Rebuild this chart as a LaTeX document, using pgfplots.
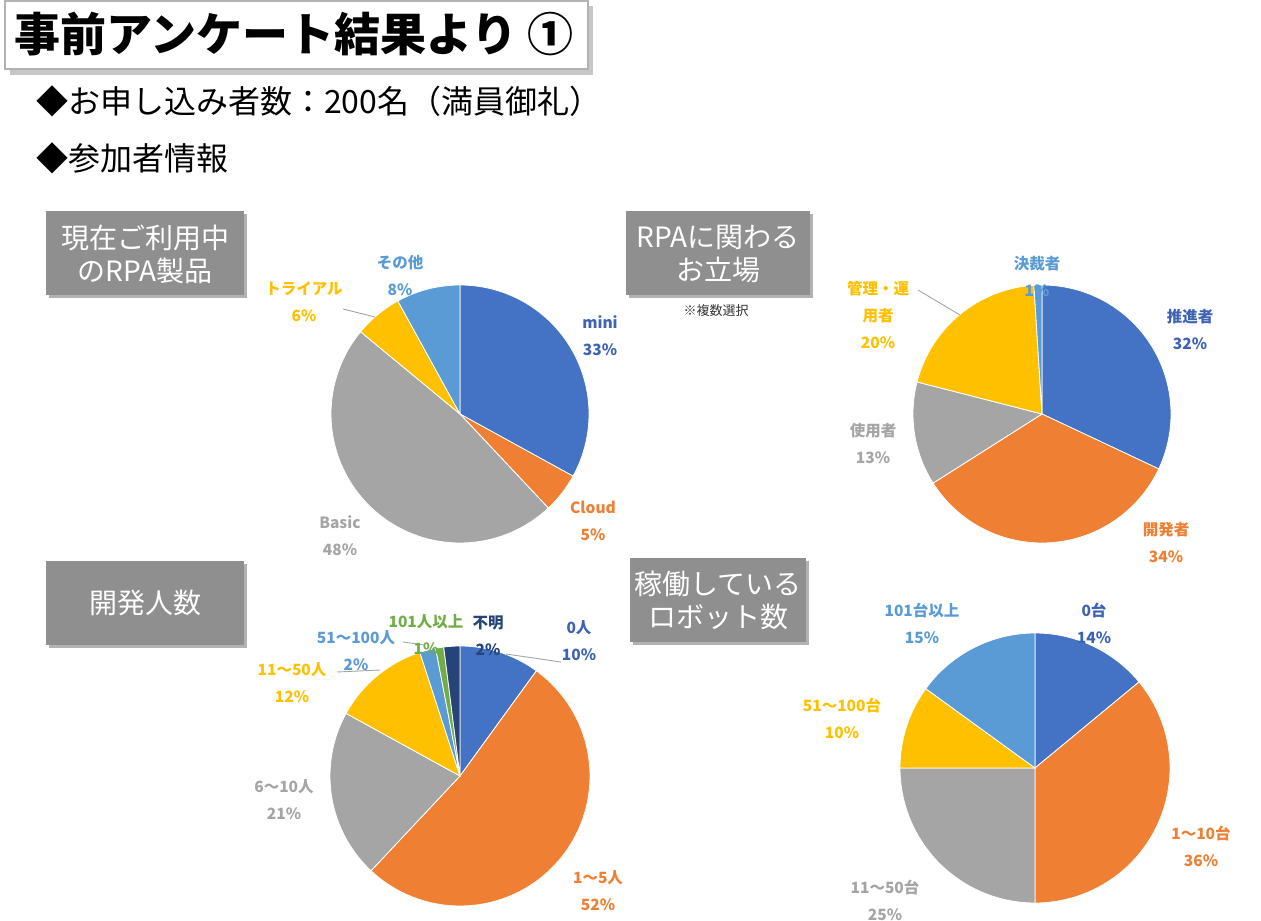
\documentclass[border=0pt]{standalone}
\usepackage{pgfplots}
\pgfplotsset{compat=1.18}
\usepackage{fontspec}
\setmainfont{Noto Sans CJK JP}
\definecolor{cBlue}{HTML}{4472C4}
\definecolor{cOrange}{HTML}{EE7F33}
\definecolor{cGray}{HTML}{A5A5A5}
\definecolor{cGold}{HTML}{FFC000}
\definecolor{cLBlue}{HTML}{5B9BD5}
\definecolor{cGreen}{HTML}{70AD47}
\definecolor{cNavy}{HTML}{264478}
\definecolor{tBlue}{HTML}{3E63B3}
\definecolor{boxgray}{HTML}{8F8F8F}
% slice: cx cy rx ry from% to% color
\newcommand{\slice}[7]{%
 \addplot[fill=#7, draw=white, line width=0.8pt, domain=#5:#6, samples=70, variable=\t, forget plot]
   ({#1+#3*sin(3.6*\t)},{#2-#4*cos(3.6*\t)}) -- (axis cs:#1,#2) -- cycle;}
\newcommand{\plab}[4]{\node[text=#3, font=\fontsize{15.5}{27}\selectfont\bfseries, align=center, inner sep=0pt] at (axis cs:#1,#2) {#4};}
\newcommand{\gbox}[4]{\fill[black!30] (axis cs:#1+3,#2+3) rectangle (axis cs:#3+3,#4+3);
 \fill[boxgray] (axis cs:#1,#2) rectangle (axis cs:#3,#4);}
\begin{document}
\begin{tikzpicture}
\begin{axis}[width=1261pt, height=919pt, scale only axis, xmin=0, xmax=1261, ymin=0, ymax=919,
  y dir=reverse, hide axis, clip=false]
\path (axis cs:0,0) rectangle (axis cs:1261,919);
% title
\fill[black!22] (axis cs:10,6) rectangle (axis cs:593,75);
\filldraw[fill=white, draw=black!30, line width=1.2pt] (axis cs:5,1) rectangle (axis cs:588,69);
\node[anchor=west, font=\fontsize{46}{50}\selectfont\bfseries, inner sep=0pt] at (axis cs:14,34) {事前アンケート結果より ①};
\node[anchor=west, font=\fontsize{32}{36}\selectfont, inner sep=0pt] at (axis cs:36,101) {◆お申し込み者数：200名（満員御礼）};
\node[anchor=west, font=\fontsize{32}{36}\selectfont, inner sep=0pt] at (axis cs:36,158) {◆参加者情報};
% boxes
\gbox{46}{211}{244}{295}
\gbox{626}{211}{810}{295}
\gbox{46}{561}{244}{645}
\gbox{630}{558}{806}{642}
\node[text=white, font=\fontsize{28}{33}\selectfont, align=center, inner sep=0pt] at (axis cs:145,254) {現在ご利用中\\のRPA製品};
\node[text=white, font=\fontsize{28}{33}\selectfont, align=center, inner sep=0pt] at (axis cs:718,254) {RPAに関わる\\お立場};
\node[text=white, font=\fontsize{28}{33}\selectfont, align=center, inner sep=0pt] at (axis cs:145,603) {開発人数};
\node[text=white, font=\fontsize{28}{33}\selectfont, align=center, inner sep=0pt] at (axis cs:718,600) {稼働している\\ロボット数};
\node[font=\fontsize{13}{15}\selectfont, inner sep=0pt, text=black!80] at (axis cs:716,311) {※複数選択};
% Pie 1: mini 33, Cloud 5, Basic 48, trial 6, other 8
\slice{460}{414}{129}{129}{0}{33}{cBlue}
\slice{460}{414}{129}{129}{33}{38}{cOrange}
\slice{460}{414}{129}{129}{38}{86}{cGray}
\slice{460}{414}{129}{129}{86}{92}{cGold}
\slice{460}{414}{129}{129}{92}{100}{cLBlue}
% Pie 2: 32, 34, 13, 20, 1
\slice{1042}{414}{129}{129}{0}{32}{cBlue}
\slice{1042}{414}{129}{129}{32}{66}{cOrange}
\slice{1042}{414}{129}{129}{66}{79}{cGray}
\slice{1042}{414}{129}{129}{79}{99}{cGold}
\slice{1042}{414}{129}{129}{99}{100}{cLBlue}
% Pie 3: 10, 52, 21, 12, 2, 1, 2
\slice{460}{776}{130}{130}{0}{10}{cBlue}
\slice{460}{776}{130}{130}{10}{62}{cOrange}
\slice{460}{776}{130}{130}{62}{83}{cGray}
\slice{460}{776}{130}{130}{83}{95}{cGold}
\slice{460}{776}{130}{130}{95}{97}{cLBlue}
\slice{460}{776}{130}{130}{97}{98}{cGreen}
\slice{460}{776}{130}{130}{98}{100}{cNavy}
% Pie 4: 14, 36, 25, 10, 15
\slice{1035}{768}{135}{135}{0}{14}{cBlue}
\slice{1035}{768}{135}{135}{14}{50}{cOrange}
\slice{1035}{768}{135}{135}{50}{75}{cGray}
\slice{1035}{768}{135}{135}{75}{85}{cGold}
\slice{1035}{768}{135}{135}{85}{100}{cLBlue}
% leader lines
\draw[cGray, line width=0.9pt] (axis cs:343,309) -- (axis cs:375,317);
\draw[cGray, line width=0.9pt] (axis cs:918,290) -- (axis cs:960,315);
\draw[cGray, line width=0.9pt] (axis cs:506,654) -- (axis cs:561,662);
\draw[cGray, line width=0.9pt] (axis cs:337,672) -- (axis cs:380,670);
\draw[cGray, line width=0.9pt] (axis cs:403,642) -- (axis cs:424,645);
% labels pie 1
\plab{400}{276}{cLBlue}{その他\\8\%}
\plab{304}{302}{cGold}{トライアル\\6\%}
\plab{600}{336}{tBlue}{mini\\33\%}
\plab{593}{521}{cOrange}{Cloud\\5\%}
\plab{340}{536}{cGray}{Basic\\48\%}
% labels pie 2
\plab{1037}{276}{cLBlue}{決裁者\\1\%}
\plab{878}{315}{cGold}{管理・運\\用者\\20\%}
\plab{1190}{329}{tBlue}{推進者\\32\%}
\plab{873}{443}{cGray}{使用者\\13\%}
\plab{1166}{542}{cOrange}{開発者\\34\%}
% labels pie 3
\plab{579}{641}{tBlue}{0人\\10\%}
\plab{598}{891}{cOrange}{1～5人\\52\%}
\plab{284}{800}{cGray}{6～10人\\21\%}
\plab{292}{683}{cGold}{11～50人\\12\%}
\plab{356}{651}{cLBlue}{51～100人\\2\%}
\plab{426}{635}{cGreen}{101人以上\\1\%}
\plab{488}{636}{cNavy}{不明\\2\%}
% labels pie 4
\plab{1094}{623}{tBlue}{0台\\14\%}
\plab{922}{623}{cLBlue}{101台以上\\15\%}
\plab{842}{718}{cGold}{51～100台\\10\%}
\plab{1201}{846}{cOrange}{1～10台\\36\%}
\plab{885}{900}{cGray}{11～50台\\25\%}
\end{axis}
\end{tikzpicture}
\end{document}
